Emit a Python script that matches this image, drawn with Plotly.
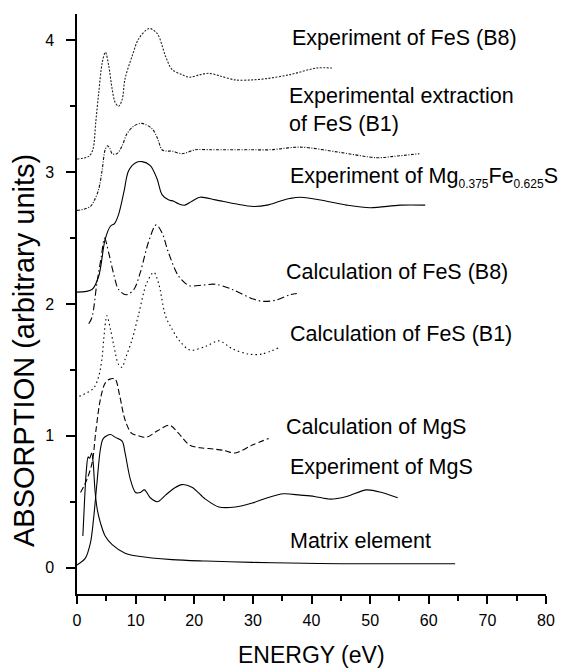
import plotly.graph_objects as go

# ---- data (energy in eV, absorption in arbitrary units, curves offset vertically) ----
exp_fes_b8_x = [0, 2.0, 2.7, 3.2, 3.7, 4.3, 4.85, 5.4, 6.0, 6.5, 7.1, 7.7, 8.2, 9.4, 10.5, 12.3, 13.7, 15.1, 16.2, 17.9, 19.2, 21.0, 22.5, 24.4, 27.0, 29.9, 32.4, 36.3, 40.9, 43.5]
exp_fes_b8_y = [3.10, 3.12, 3.17, 3.38, 3.60, 3.83, 3.91, 3.81, 3.63, 3.53, 3.50, 3.55, 3.71, 3.88, 4.01, 4.09, 4.05, 3.88, 3.78, 3.74, 3.72, 3.74, 3.75, 3.73, 3.70, 3.70, 3.71, 3.74, 3.79, 3.79]

ext_fes_b1_x = [0, 1.2, 2.3, 3.0, 3.7, 4.3, 4.8, 5.2, 5.6, 6.0, 6.8, 7.7, 8.5, 9.7, 11.1, 12.8, 13.7, 14.5, 15.3, 16.2, 17.9, 20.2, 23.0, 26.7, 29.9, 33.0, 38.1, 44.9, 51.1, 54.0, 58.4]
ext_fes_b1_y = [2.71, 2.72, 2.74, 2.79, 2.87, 3.02, 3.17, 3.20, 3.18, 3.14, 3.14, 3.20, 3.29, 3.35, 3.37, 3.33, 3.26, 3.17, 3.16, 3.16, 3.14, 3.17, 3.17, 3.17, 3.17, 3.17, 3.19, 3.15, 3.11, 3.12, 3.14]

exp_mgfes_x = [0, 2.56, 3.7, 4.8, 5.7, 6.4, 7.1, 8.0, 8.8, 9.95, 11.1, 12.5, 13.65, 14.5, 15.6, 16.5, 17.35, 18.4, 19.6, 21.0, 23.6, 27.0, 30.1, 32.4, 34.6, 36.3, 38.1, 42.6, 46.0, 50.0, 55.1, 59.4]
exp_mgfes_y = [2.09, 2.11, 2.21, 2.49, 2.59, 2.61, 2.68, 2.85, 3.01, 3.07, 3.08, 3.05, 2.95, 2.83, 2.79, 2.78, 2.76, 2.75, 2.78, 2.81, 2.79, 2.76, 2.74, 2.75, 2.78, 2.80, 2.81, 2.78, 2.75, 2.73, 2.75, 2.75]

calc_fes_b8_x = [2.0, 2.56, 3.4, 4.15, 4.7, 5.4, 6.3, 7.1, 8.4, 9.7, 10.8, 12.2, 13.5, 14.5, 15.6, 17.35, 19.1, 20.8, 23.6, 26.5, 29.9, 31.8, 34.0, 36.3, 37.5]
calc_fes_b8_y = [1.85, 1.90, 2.16, 2.36, 2.50, 2.39, 2.22, 2.11, 2.07, 2.11, 2.24, 2.47, 2.60, 2.54, 2.39, 2.21, 2.14, 2.14, 2.15, 2.11, 2.04, 2.02, 2.03, 2.07, 2.08]

calc_fes_b1_x = [0.4, 2.8, 3.7, 4.3, 4.55, 5.1, 5.7, 6.3, 7.1, 7.7, 8.2, 9.4, 10.5, 11.9, 13.1, 13.9, 15.1, 16.2, 17.5, 19.3, 22.0, 24.2, 26.5, 29.3, 31.5, 34.5]
calc_fes_b1_y = [1.30, 1.36, 1.45, 1.60, 1.73, 1.91, 1.81, 1.68, 1.54, 1.52, 1.58, 1.73, 1.92, 2.16, 2.24, 2.16, 1.91, 1.81, 1.72, 1.65, 1.68, 1.72, 1.66, 1.62, 1.62, 1.67]

calc_mgs_x = [0.6, 1.7, 2.6, 3.2, 4.0, 4.8, 5.6, 6.5, 7.3, 8.2, 9.3, 10.5, 11.9, 13.8, 15.8, 17.3, 19.2, 21.0, 23.2, 25.0, 27.0, 29.9, 32.7]
calc_mgs_y = [0.57, 0.67, 0.80, 1.03, 1.28, 1.40, 1.43, 1.43, 1.30, 1.12, 1.02, 1.00, 0.99, 1.04, 1.08, 1.02, 0.93, 0.91, 0.90, 0.89, 0.87, 0.93, 0.98]

exp_mgs_x = [0, 1.4, 2.3, 2.8, 3.4, 4.0, 4.5, 5.7, 6.5, 7.7, 8.2, 9.1, 10.0, 10.8, 11.5, 12.5, 13.7, 15.1, 16.5, 17.9, 19.6, 21.9, 24.2, 27.0, 29.9, 32.5, 35.2, 38.1, 40.5, 43.2, 46.0, 49.4, 52.0, 54.7]
exp_mgs_y = [0.02, 0.07, 0.19, 0.36, 0.64, 0.90, 0.98, 1.01, 0.99, 0.96, 0.87, 0.67, 0.57, 0.57, 0.59, 0.53, 0.50, 0.55, 0.60, 0.63, 0.61, 0.52, 0.46, 0.46, 0.49, 0.53, 0.56, 0.55, 0.54, 0.52, 0.54, 0.59, 0.57, 0.53]

matrix_x = [1.0, 1.3, 1.6, 1.9, 2.15, 2.5, 2.75, 3.1, 3.5, 4.0, 4.8, 6.0, 8.2, 10.5, 16.2, 22.0, 29.9, 36.3, 45.0, 55.0, 64.5]
matrix_y = [0.24, 0.52, 0.74, 0.84, 0.83, 0.87, 0.80, 0.57, 0.43, 0.34, 0.24, 0.175, 0.11, 0.086, 0.061, 0.05, 0.04, 0.035, 0.03, 0.03, 0.03]

SUB = '<sub><span style="font-size:12px">{}</span></sub>'
labels = ["Experiment of FeS (B8)",
          "Experimental extraction<br>of FeS (B1)",
          "Experiment of Mg" + SUB.format("0.375") + "Fe" + SUB.format("0.625") + "S",
          "Calculation of FeS (B8)",
          "Calculation of FeS (B1)",
          "Calculation of MgS",
          "Experiment of MgS",
          "Matrix element"]
label_x = [36.35, 35.75, 36.05, 35.35, 36.05, 35.25, 36.05, 36.05]
label_y = [4.017, 3.47, 2.96, 2.24, 1.77, 1.065, 0.763, 0.205]

FONT = "Liberation Sans, Arial, Helvetica, sans-serif"

series = [
    (exp_fes_b8_x, exp_fes_b8_y, "2px,1.5px", "#222"),
    (ext_fes_b1_x, ext_fes_b1_y, "3px,1.5px,1px,1.5px", "#111"),
    (exp_mgfes_x, exp_mgfes_y, "solid", "black"),
    (calc_fes_b8_x, calc_fes_b8_y, "7px,3px,1.5px,3px", "black"),
    (calc_fes_b1_x, calc_fes_b1_y, "1.5px,3px", "black"),
    (calc_mgs_x, calc_mgs_y, "6px,3px", "black"),
    (exp_mgs_x, exp_mgs_y, "solid", "black"),
    (matrix_x, matrix_y, "solid", "black"),
]
names = ["Experiment of FeS (B8)", "Experimental extraction of FeS (B1)",
         "Experiment of Mg0.375Fe0.625S", "Calculation of FeS (B8)",
         "Calculation of FeS (B1)", "Calculation of MgS", "Experiment of MgS",
         "Matrix element"]

fig = go.Figure()
for (xs, ys, dash, col), name in zip(series, names):
    fig.add_trace(go.Scatter(x=xs, y=ys, mode="lines", name=name,
                             line=dict(color=col, width=1.1, dash=dash,
                                       shape="spline", smoothing=0.9),
                             showlegend=False))

for t, x, y in zip(labels, label_x, label_y):
    fig.add_annotation(x=x, y=y, xref="x", yref="y", text=t, showarrow=False,
                       xanchor="left", yanchor="middle", align="left",
                       font=dict(family=FONT, size=21.5, color="black"))

# axis titles
fig.add_annotation(x=-0.113, y=0.419, xref="paper", yref="paper",
                   text="ABSORPTION (arbitrary units)", textangle=-90,
                   showarrow=False, xanchor="center", yanchor="middle",
                   font=dict(family=FONT, size=29, color="black"))
fig.add_annotation(x=0.5, y=-0.105, xref="paper", yref="paper",
                   text="ENERGY (eV)", showarrow=False,
                   xanchor="center", yanchor="middle",
                   font=dict(family=FONT, size=23, color="black"))

# page body adds an 8px offset, so the figure is 8px smaller and shifted
fig.update_layout(
    width=561, height=660,
    margin=dict(l=69, r=23, t=6, b=74, autoexpand=False),
    paper_bgcolor="white", plot_bgcolor="white",
    font=dict(family=FONT, color="black"),
)
fig.update_xaxes(range=[0, 80], dtick=10, tick0=0, showgrid=False, zeroline=False,
                 automargin=False,
                 showline=True, linecolor="black", linewidth=1.5,
                 ticks="outside", ticklen=8, tickwidth=1.5, tickcolor="black",
                 ticklabelstandoff=3,
                 minor=dict(dtick=5, ticks="outside", ticklen=5, tickwidth=1.5, tickcolor="black"),
                 tickfont=dict(family=FONT, size=16, color="black"))
fig.update_yaxes(range=[-0.2, 4.2], dtick=1, tick0=0, showgrid=False, zeroline=False,
                 automargin=False,
                 showline=True, linecolor="black", linewidth=1.5,
                 ticks="outside", ticklen=9, tickwidth=1.5, tickcolor="black",
                 ticklabelstandoff=9,
                 minor=dict(dtick=0.5, ticks="outside", ticklen=5, tickwidth=1.5, tickcolor="black"),
                 tickfont=dict(family=FONT, size=16, color="black"))

fig.write_html("out.html")
